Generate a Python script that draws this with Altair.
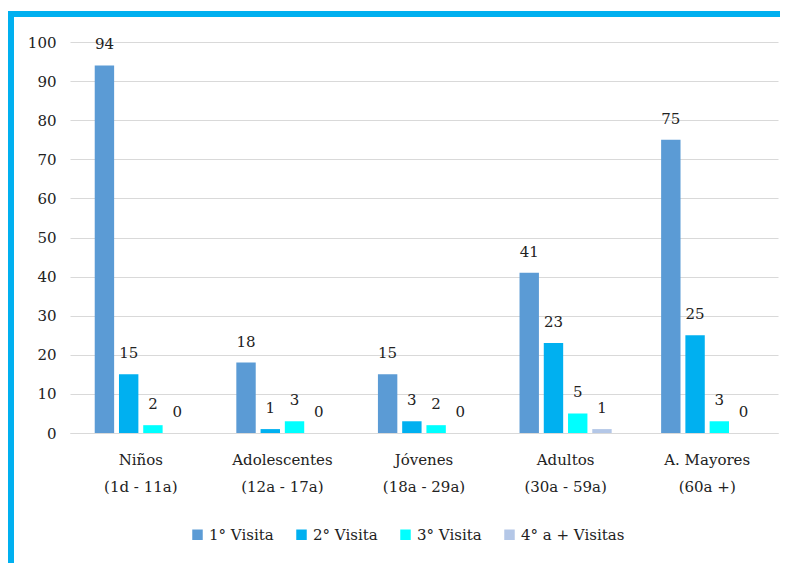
import altair as alt
import pandas as pd

categories = ["Niños|(1d - 11a)", "Adolescentes|(12a - 17a)", "Jóvenes|(18a - 29a)",
              "Adultos|(30a - 59a)", "A. Mayores|(60a +)"]
series = ["1° Visita", "2° Visita", "3° Visita", "4° a + Visitas"]
v1 = [94, 18, 15, 41, 75]
v2 = [15, 1, 3, 23, 25]
v3 = [2, 3, 2, 5, 3]
v4 = [0, 0, 0, 1, 0]
colors = ["#5B9BD5", "#00B0F0", "#00FFFF", "#B4C7E7"]

rows = []
for s, vals in zip(series, [v1, v2, v3, v4]):
    for c, v in zip(categories, vals):
        rows.append({"cat": c, "serie": s, "valor": v})
df = pd.DataFrame(rows)

FONT = "DejaVu Serif"

x = alt.X("cat:N", sort=categories, title=None,
          scale=alt.Scale(paddingInner=0.315, paddingOuter=0.1575),
          axis=alt.Axis(labelExpr="split(datum.label, '|')", labelAngle=0,
                        labelFontSize=15, labelLineHeight=27, labelPadding=19,
                        ticks=False, domainColor="#D9D9D9", labelColor="#222",
                        labelFont=FONT))
xo = alt.XOffset("serie:N", sort=series,
                 scale=alt.Scale(paddingInner=0.2, paddingOuter=0.1))
y = alt.Y("valor:Q", title=None,
          scale=alt.Scale(domain=[0, 100], nice=False),
          axis=alt.Axis(values=list(range(0, 101, 10)), ticks=False, domain=False,
                        labelOverlap=False,
                        gridColor="#D9D9D9", labelFontSize=15, labelPadding=14,
                        labelColor="#222", labelFont=FONT))

bars = alt.Chart(df).mark_bar().encode(
    x=x, xOffset=xo, y=y,
    color=alt.Color("serie:N", sort=series, title=None,
                    scale=alt.Scale(domain=series, range=colors),
                    legend=alt.Legend(orient="none", direction="horizontal",
                                      legendX=120, legendY=485,
                                      symbolType="square", symbolSize=110,
                                      symbolStrokeWidth=0,
                                      labelFontSize=15, labelFont=FONT,
                                      labelColor="#222", columnPadding=20)),
)

labels = alt.Chart(df).mark_text(baseline="bottom", dy=-13, fontSize=15,
                                 font=FONT, color="#222").encode(
    x=x, xOffset=xo, y=y, text="valor:Q")

frame = pd.DataFrame({"k": [0]})
top_rule = alt.Chart(frame).mark_rule(color="#00B0F0", strokeWidth=6).encode(
    x=alt.value(-62), x2=alt.value(730), y=alt.value(-28))
left_rule = alt.Chart(frame).mark_rule(color="#00B0F0", strokeWidth=6).encode(
    x=alt.value(-59), y=alt.value(-31), y2=alt.value(620))

chart = alt.layer(bars, labels, top_rule, left_rule).properties(
    width=708, height=391,
    autosize=alt.AutoSizeParams(type="none"),
    padding={"left": 62, "top": 34, "right": 2, "bottom": 130},
).configure(font=FONT).configure_view(strokeWidth=0, stroke="transparent")

chart.save("out.html", embed_options={"renderer": "svg", "actions": False})
